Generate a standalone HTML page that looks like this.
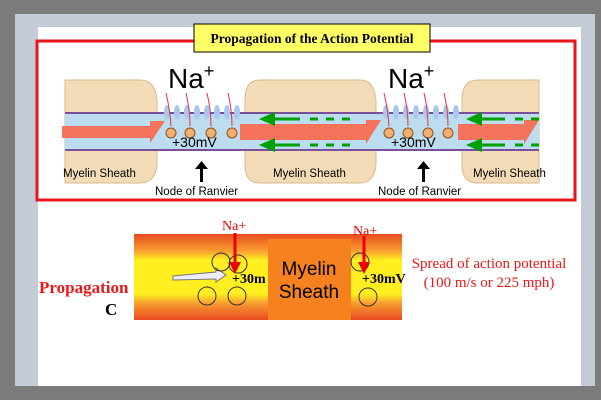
<!DOCTYPE html>
<html><head><style>body{margin:0;background:#7b7b7b}svg{display:block}</style></head><body>
<svg width="601" height="400" xmlns="http://www.w3.org/2000/svg" font-family="Liberation Sans, sans-serif">
<rect width="601" height="400" fill="#7b7b7b"/>
<rect x="15" y="14" width="580" height="372" fill="#c3ccd6"/>
<rect x="38" y="27" width="543" height="359" fill="#fff"/>
<rect x="37" y="41" width="538" height="159" fill="none" stroke="#e8141c" stroke-width="3"/>
<rect x="194" y="24" width="236" height="28" fill="#ffff66" stroke="#000" stroke-width="1"/>
<text x="312" y="43" text-anchor="middle" font-family="Liberation Serif, serif" font-weight="bold" font-size="13.5">Propagation of the Action Potential</text>
<!-- myelin -->
<g fill="#f5dcb8" stroke="#d8b98a">
<path d="M65 80 H140 Q155 80 157 100 V165 Q155 183 140 183 H65 Z"/>
<path d="M260 80 H360 Q374 80 376 100 V165 Q374 183 360 183 H260 Q245 183 245 165 V100 Q245 80 260 80 Z"/>
<path d="M478 80 H539 V183 H478 Q462 183 462 165 V100 Q462 80 478 80 Z"/>
</g>
<rect x="65" y="113" width="474" height="37" fill="#bcdcf0"/>
<line x1="65" y1="113" x2="539" y2="113" stroke="#7a4e9a" stroke-width="2"/>
<line x1="65" y1="150" x2="539" y2="150" stroke="#7a4e9a" stroke-width="2"/>
<g fill="#a8c8ee">
<ellipse cx="167" cy="112" rx="3" ry="7"/><ellipse cx="177" cy="112" rx="3" ry="7"/><ellipse cx="187" cy="112" rx="3" ry="7"/><ellipse cx="197" cy="112" rx="3" ry="7"/><ellipse cx="207" cy="112" rx="3" ry="7"/><ellipse cx="217" cy="112" rx="3" ry="7"/><ellipse cx="227" cy="112" rx="3" ry="7"/><ellipse cx="237" cy="112" rx="3" ry="7"/>
<ellipse cx="386" cy="112" rx="3" ry="7"/><ellipse cx="396" cy="112" rx="3" ry="7"/><ellipse cx="406" cy="112" rx="3" ry="7"/><ellipse cx="416" cy="112" rx="3" ry="7"/><ellipse cx="426" cy="112" rx="3" ry="7"/><ellipse cx="436" cy="112" rx="3" ry="7"/><ellipse cx="446" cy="112" rx="3" ry="7"/><ellipse cx="456" cy="112" rx="3" ry="7"/>
</g>
<g fill="#f4735a">
<path d="M62 126 H150 V121 H165 L150 143 V138 H62 Z" transform="translate(0,0)"/>
<path d="M240 124 H366 V120 H381 L366 144 V140 H240 Z"/>
<path d="M458 124 H524 V120 H539 L524 144 V140 H458 Z"/>
</g>
<g stroke="#00a000" stroke-width="3" fill="#00a000">
<line x1="275" y1="119" x2="300" y2="119"/><line x1="310" y1="119" x2="353" y2="119" stroke-dasharray="8,8"/>
<polygon points="259,119 275,112 275,126" stroke="none"/>
<line x1="275" y1="145" x2="300" y2="145"/><line x1="310" y1="145" x2="353" y2="145" stroke-dasharray="8,8"/>
<polygon points="259,145 275,138 275,152" stroke="none"/>
<line x1="482" y1="119" x2="505" y2="119"/><line x1="515" y1="119" x2="539" y2="119" stroke-dasharray="8,8"/>
<polygon points="466,119 482,112 482,126" stroke="none"/>
<line x1="482" y1="145" x2="505" y2="145"/><line x1="515" y1="145" x2="539" y2="145" stroke-dasharray="8,8"/>
<polygon points="466,145 482,138 482,152" stroke="none"/>
</g>
<g stroke="#e83040" stroke-width="1" fill="none">
<path d="M166 93 Q170 110 171 126"/><path d="M186 93 Q190 110 190 126"/><path d="M207 93 Q211 110 211 126"/><path d="M228 93 Q232 110 232 126"/>
<path d="M384 93 Q388 110 389 126"/><path d="M404 93 Q408 110 408 126"/><path d="M424 93 Q428 110 428 126"/><path d="M444 93 Q448 110 448 126"/>
</g>
<g fill="#f0b070" stroke="#8a5020" stroke-width="1">
<circle cx="171" cy="133" r="5"/><circle cx="190" cy="133" r="5"/><circle cx="211" cy="133" r="5"/><circle cx="232" cy="133" r="5"/>
<circle cx="389" cy="133" r="5"/><circle cx="408" cy="133" r="5"/><circle cx="428" cy="133" r="5"/><circle cx="448" cy="133" r="5"/>
</g>
<text x="168" y="88" font-size="28">Na<tspan font-size="18" dy="-11">+</tspan></text>
<text x="388" y="88" font-size="28">Na<tspan font-size="18" dy="-11">+</tspan></text>
<text x="172" y="147" font-size="14">+30mV</text>
<text x="391" y="147" font-size="14">+30mV</text>
<g font-size="11.5">
<text x="63" y="177">Myelin Sheath</text>
<text x="273" y="177">Myelin Sheath</text>
<text x="473" y="177">Myelin Sheath</text>
<text x="155" y="195">Node of Ranvier</text>
<text x="378" y="195">Node of Ranvier</text>
</g>
<g fill="#000">
<rect x="200" y="168" width="3" height="14"/><polygon points="195,169 201.5,161 208,169"/>
<rect x="422" y="168" width="3" height="14"/><polygon points="417,169 423.5,161 430,169"/>
</g>
<!-- bottom -->
<defs><linearGradient id="g" x1="0" y1="0" x2="0" y2="1">
<stop offset="0" stop-color="#e84a20"/><stop offset="0.2" stop-color="#f8a030"/><stop offset="0.3" stop-color="#ffee20"/><stop offset="0.7" stop-color="#ffee20"/><stop offset="0.8" stop-color="#f8a030"/><stop offset="1" stop-color="#e84a20"/></linearGradient></defs>
<rect x="134" y="234" width="268" height="86" fill="url(#g)"/>
<rect x="268" y="239" width="83" height="81" fill="#f5821f"/>
<text x="309" y="275" text-anchor="middle" font-size="19">Myelin</text>
<text x="309" y="298" text-anchor="middle" font-size="19">Sheath</text>
<polygon points="173,276 216,272 216,268 226,275 216,282 216,279 173,280" fill="#eef" stroke="#777"/>
<g fill="none" stroke="#333"><circle cx="221" cy="262" r="9"/><circle cx="238" cy="264" r="9"/><circle cx="207" cy="296" r="9"/><circle cx="237" cy="296" r="9"/><circle cx="360" cy="262" r="9"/><circle cx="368" cy="297" r="9"/></g>
<g fill="#e00" stroke="#e00" stroke-width="3"><line x1="235" y1="233" x2="235" y2="265"/><polygon points="229,262 241,262 235,274" stroke="none"/><line x1="364" y1="236" x2="364" y2="265"/><polygon points="358,262 370,262 364,274" stroke="none"/></g>
<text x="222" y="230" fill="#e00" font-family="Liberation Serif, serif" font-size="14">Na+</text>
<text x="353" y="235" fill="#e00" font-family="Liberation Serif, serif" font-size="14">Na+</text>
<text x="232" y="283" font-family="Liberation Serif, serif" font-weight="bold" font-size="14">+30m</text>
<text x="362" y="283" font-family="Liberation Serif, serif" font-weight="bold" font-size="14">+30mV</text>
<text x="39" y="293" fill="#e81818" font-family="Liberation Serif, serif" font-weight="bold" font-size="17">Propagation</text>
<text x="105" y="315" font-family="Liberation Serif, serif" font-weight="bold" font-size="17">C</text>
<text x="489" y="268" text-anchor="middle" fill="#e81818" font-family="Liberation Serif, serif" font-size="15">Spread of action potential</text>
<text x="489" y="287" text-anchor="middle" fill="#e81818" font-family="Liberation Serif, serif" font-size="15">(100 m/s or 225 mph)</text>
</svg>
</body></html>
